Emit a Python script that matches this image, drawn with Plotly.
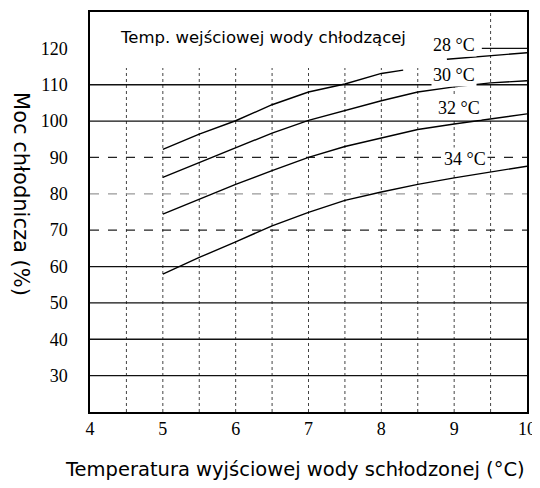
import plotly.graph_objects as go

# ---- data ----
x_tick_vals = [4, 5, 6, 7, 8, 9, 10]
y_tick_vals = [30, 40, 50, 60, 70, 80, 90, 100, 110, 120]

x_pts = [5, 5.5, 6, 6.5, 7, 7.5, 8, 8.5, 9, 9.5, 10]

x_28_a = [5, 5.5, 6, 6.5, 7, 7.5, 8, 8.3]
cap_28_a = [92.2, 96.4, 100.1, 104.5, 108.0, 110.2, 113.1, 114.0]
x_28_b = [8.9, 9.5, 10]
cap_28_b = [117.0, 118.0, 118.8]

cap_30 = [84.5, 88.5, 92.6, 96.7, 100.2, 102.9, 105.6, 108.0, 109.4, 110.5, 111.1]
cap_32 = [74.4, 78.5, 82.6, 86.4, 90.0, 93.0, 95.3, 97.7, 99.2, 100.5, 102.0]
cap_34 = [57.9, 62.5, 66.8, 71.2, 74.9, 78.2, 80.5, 82.6, 84.4, 86.0, 87.6]

curve_labels = ["28 °C", "30 °C", "32 °C", "34 °C"]
label_x = [9.0, 9.0, 9.06, 9.15]
label_y = [121, 112.8, 103.5, 89.5]

# grid
x_min, x_max = 4, 10
y_min, y_max = 20, 130
v_grid = [4.5, 5, 5.5, 6, 6.5, 7, 7.5, 8, 8.5, 9, 9.5]
solid_grid = [30, 40, 50, 60, 100, 110]
dashed_grid = [70, 90]
grey_grid = [80]
top_grid = [120]
header_box_x = 9.38      # header text box covers grid left of this
header_box_y = 114.6     # ... and above this

tick_font = dict(family="Liberation Serif, DejaVu Serif, serif", size=18, color="black")

fig = go.Figure()

def grid_line(xs, ys, color, dash, width):
    fig.add_trace(go.Scatter(x=xs, y=ys, mode="lines", hoverinfo="skip", showlegend=False,
                             line=dict(color=color, dash=dash, width=width)))

for v in v_grid:
    top = header_box_y if v < header_box_x else y_max
    grid_line([v, v], [y_min, top], "#444", "dot", 1)
for v in solid_grid:
    grid_line([x_min, x_max], [v, v], "#111", "solid", 1.3)
for v in dashed_grid:
    grid_line([x_min, x_max], [v, v], "#222", "dash", 1.2)
for v in grey_grid:
    grid_line([x_min, x_max], [v, v], "#999", "dash", 1.2)
for v in top_grid:
    grid_line([header_box_x, x_max], [v, v], "#111", "solid", 1.3)

line_style = dict(color="black", width=1.4)
fig.add_trace(go.Scatter(x=x_28_a, y=cap_28_a, mode="lines", line=line_style, showlegend=False))
fig.add_trace(go.Scatter(x=x_28_b, y=cap_28_b, mode="lines", line=line_style, showlegend=False))
fig.add_trace(go.Scatter(x=x_pts, y=cap_30, mode="lines", line=line_style, showlegend=False))
fig.add_trace(go.Scatter(x=x_pts, y=cap_32, mode="lines", line=line_style, showlegend=False))
fig.add_trace(go.Scatter(x=x_pts, y=cap_34, mode="lines", line=line_style, showlegend=False))

annotations = [
    dict(text="Temp. wejściowej wody chłodzącej", xref="paper", yref="paper",
         x=0.395, y=0.935, showarrow=False, xanchor="center", yanchor="middle",
         font=dict(family="DejaVu Sans", size=16.5, color="black")),
    dict(text="Moc chłodnicza (%)", xref="paper", yref="paper", x=-0.158, y=0.545,
         textangle=90, showarrow=False, xanchor="center", yanchor="middle",
         font=dict(family="DejaVu Sans, sans-serif", size=21, color="black")),
    dict(text="Temperatura wyjściowej wody schłodzonej (°C)", xref="paper", yref="paper",
         x=0.468, y=-0.144, showarrow=False, xanchor="center", yanchor="middle",
         font=dict(family="DejaVu Sans, sans-serif", size=19.5, color="black")),
]
for t, lx, ly in zip(curve_labels, label_x, label_y):
    annotations.append(dict(text=t, x=lx, y=ly, xref="x", yref="y", showarrow=False,
                            xanchor="center", yanchor="middle", bgcolor="white",
                            font=tick_font))

# page body has an 8px default margin, so the figure is sized to fit inside the window
fig.update_layout(
    width=532, height=480,
    margin=dict(l=82, r=13, t=2, b=76),
    paper_bgcolor="white", plot_bgcolor="white",
    annotations=annotations,
    xaxis=dict(range=[x_min, x_max], tickmode="array", tickvals=x_tick_vals,
               ticktext=[str(v) for v in x_tick_vals], tickfont=tick_font,
               showgrid=False, showline=True, linecolor="black", linewidth=1.5,
               mirror=True, ticks="", zeroline=False, ticklabelstandoff=0),
    yaxis=dict(range=[y_min, y_max], tickmode="array", tickvals=y_tick_vals,
               ticktext=[str(v) for v in y_tick_vals], tickfont=tick_font,
               showgrid=False, showline=True, linecolor="black", linewidth=1.5,
               mirror=True, ticks="", zeroline=False, ticklabelstandoff=17),
)

fig.write_html("out.html")
